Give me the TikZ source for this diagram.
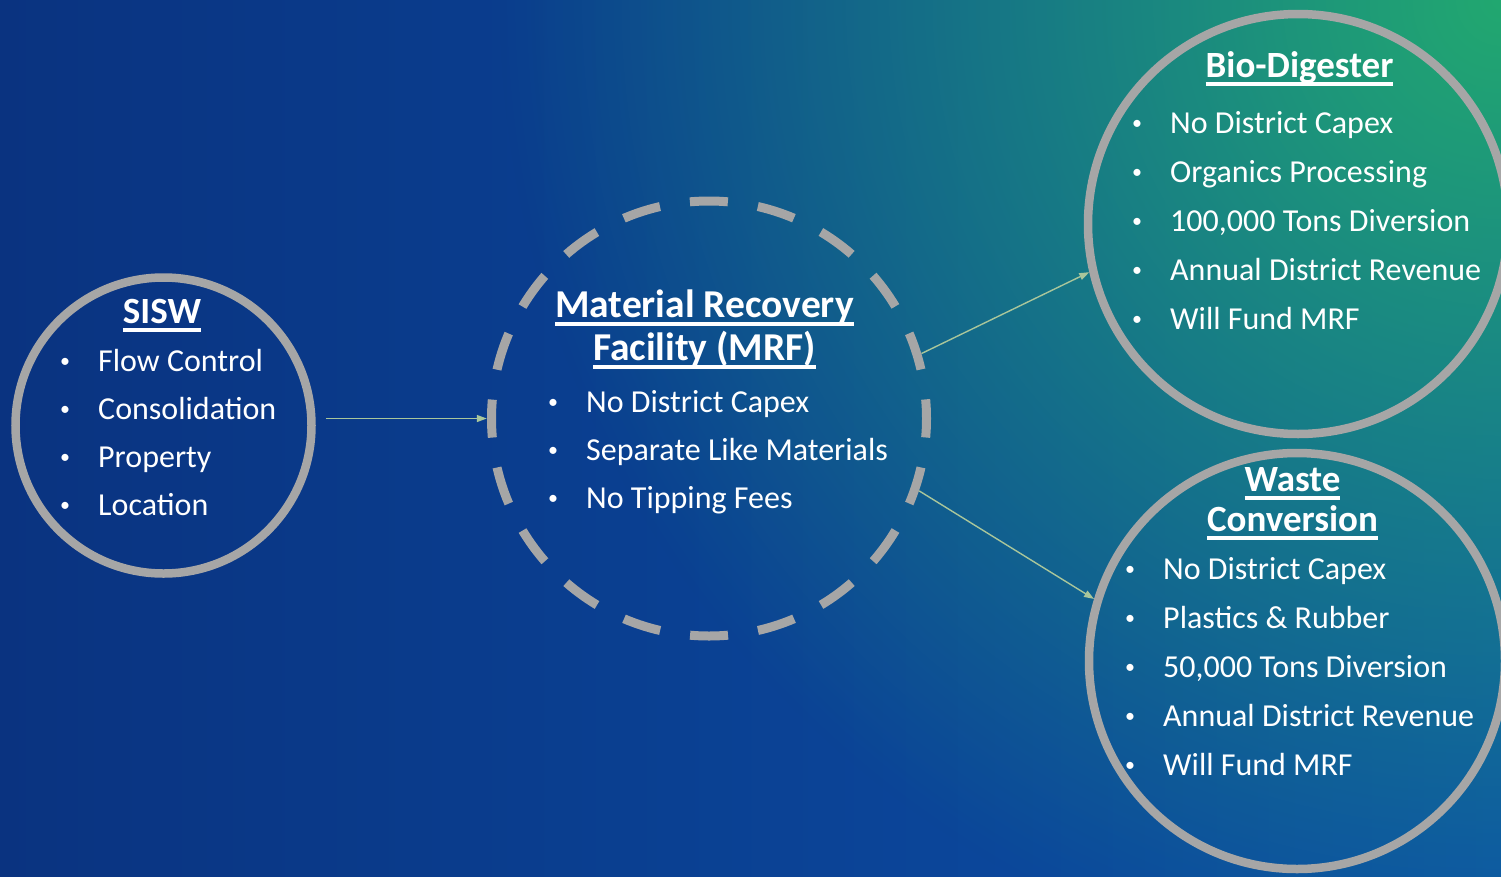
\documentclass[tikz,border=0pt]{standalone}
\usepackage{fontspec}
\setmainfont{Carlito}
\usetikzlibrary{arrows.meta,fadings}
\definecolor{bgleft}{HTML}{0A3380}
\definecolor{bgmid}{HTML}{0A46A3}
\definecolor{bgright}{HTML}{0B50A8}
\definecolor{bggreen}{HTML}{22A870}
\definecolor{ringc}{HTML}{A6A6A6}
\definecolor{arrowc}{HTML}{A9C69B}
\tikzfading[name=greenfade, inner color=transparent!0, outer color=transparent!100]
\newsavebox\ulbox
\newcommand\ulx[1]{\sbox\ulbox{#1}\rlap{\rule[-8.5pt]{\wd\ulbox}{3.3pt}}\usebox\ulbox}
\begin{document}
\begin{tikzpicture}[x=1pt,y=-1pt,
  ring/.style={circle, draw=ringc, line width=8.5pt, inner sep=0pt},
  item/.style={anchor=base west, text=white, inner sep=0pt, font=\fontsize{32}{36}\selectfont},
  bul/.style={anchor=base, text=white, inner sep=0pt, font=\fontsize{20}{24}\selectfont, yshift=4pt},
  ttl/.style={anchor=base, text=white, inner sep=0pt, font=\bfseries\fontsize{37}{42}\selectfont},
  arr/.style={draw=arrowc, line width=1.4pt, -{Triangle[length=10pt,width=7pt]}}]
\useasboundingbox (0,0) rectangle (1501,876);
\begin{scope}
  \clip (0,0) rectangle (1501,876);
  \shade[left color=bgleft, middle color=bgmid, right color=bgright] (0,0) rectangle (1501,876);
  \fill[bggreen, path fading=greenfade] (1501,0) circle (1000pt);
\end{scope}

% circles
\node[ring, minimum size=296pt] (sisw) at (163.5,425.5) {};
\node[circle, inner sep=0pt, minimum size=444pt] (mrf) at (709,418.5) {};
\draw[ringc, line width=9pt, dash pattern=on 38pt off 30.33pt, dash phase=19pt] (mrf.center) ++(217.5pt,0) arc[start angle=0, end angle=-360, radius=217.5pt];
\node[ring, minimum size=420pt] (bio) at (1298,224) {};
\node[ring, minimum size=416pt] (waste) at (1297,661) {};

% arrows
\draw[arr] ([xshift=10pt]sisw.east |- mrf.west) -- (mrf.west);
\draw[arr] (mrf.17) -- (bio.193);
\draw[arr] (mrf.-19) -- (waste.163);

% SISW
\node[ttl] (siswt) at (162,323) {\ulx{SISW}};
\foreach \t [count=\i] in {Flow Control, Consolidation, Property, Location} {
  \node[bul] (sb\i) at (65,{371+48*(\i-1)}) {•};
  \node[item] (st\i) at (98,{371+48*(\i-1)}) {\t};
}

% MRF
\node[ttl, font=\bfseries\fontsize{39.5}{44}\selectfont] (mrft1) at (704.5,317) {\ulx{Material Recovery}};
\node[ttl, font=\bfseries\fontsize{39.5}{44}\selectfont] (mrft2) at (704.5,360) {\ulx{Facility (MRF)}};
\foreach \t [count=\i] in {No District Capex, Separate Like Materials, No Tipping Fees} {
  \node[bul] (mb\i) at (553,{412+48*(\i-1)}) {•};
  \node[item] (mt\i) at (586,{412+48*(\i-1)}) {\t};
}

% Bio-Digester
\node[ttl] (biot) at (1299.5,77) {\ulx{Bio-Digester}};
\foreach \t [count=\i] in {No District Capex, Organics Processing, {100,000 Tons Diversion}, Annual District Revenue, Will Fund MRF} {
  \node[bul] (bb\i) at (1137,{133+49.2*(\i-1)}) {•};
  \node[item] (bt\i) at (1170,{133+49.2*(\i-1)}) {\t};
}

% Waste Conversion
\node[ttl] (wastet1) at (1292.5,491) {\ulx{Waste}};
\node[ttl] (wastet2) at (1292.5,531) {\ulx{Conversion}};
\foreach \t [count=\i] in {No District Capex, Plastics \& Rubber, {50,000 Tons Diversion}, Annual District Revenue, Will Fund MRF} {
  \node[bul] (wb\i) at (1130,{579+49*(\i-1)}) {•};
  \node[item] (wt\i) at (1163,{579+49*(\i-1)}) {\t};
}
\end{tikzpicture}
\end{document}
